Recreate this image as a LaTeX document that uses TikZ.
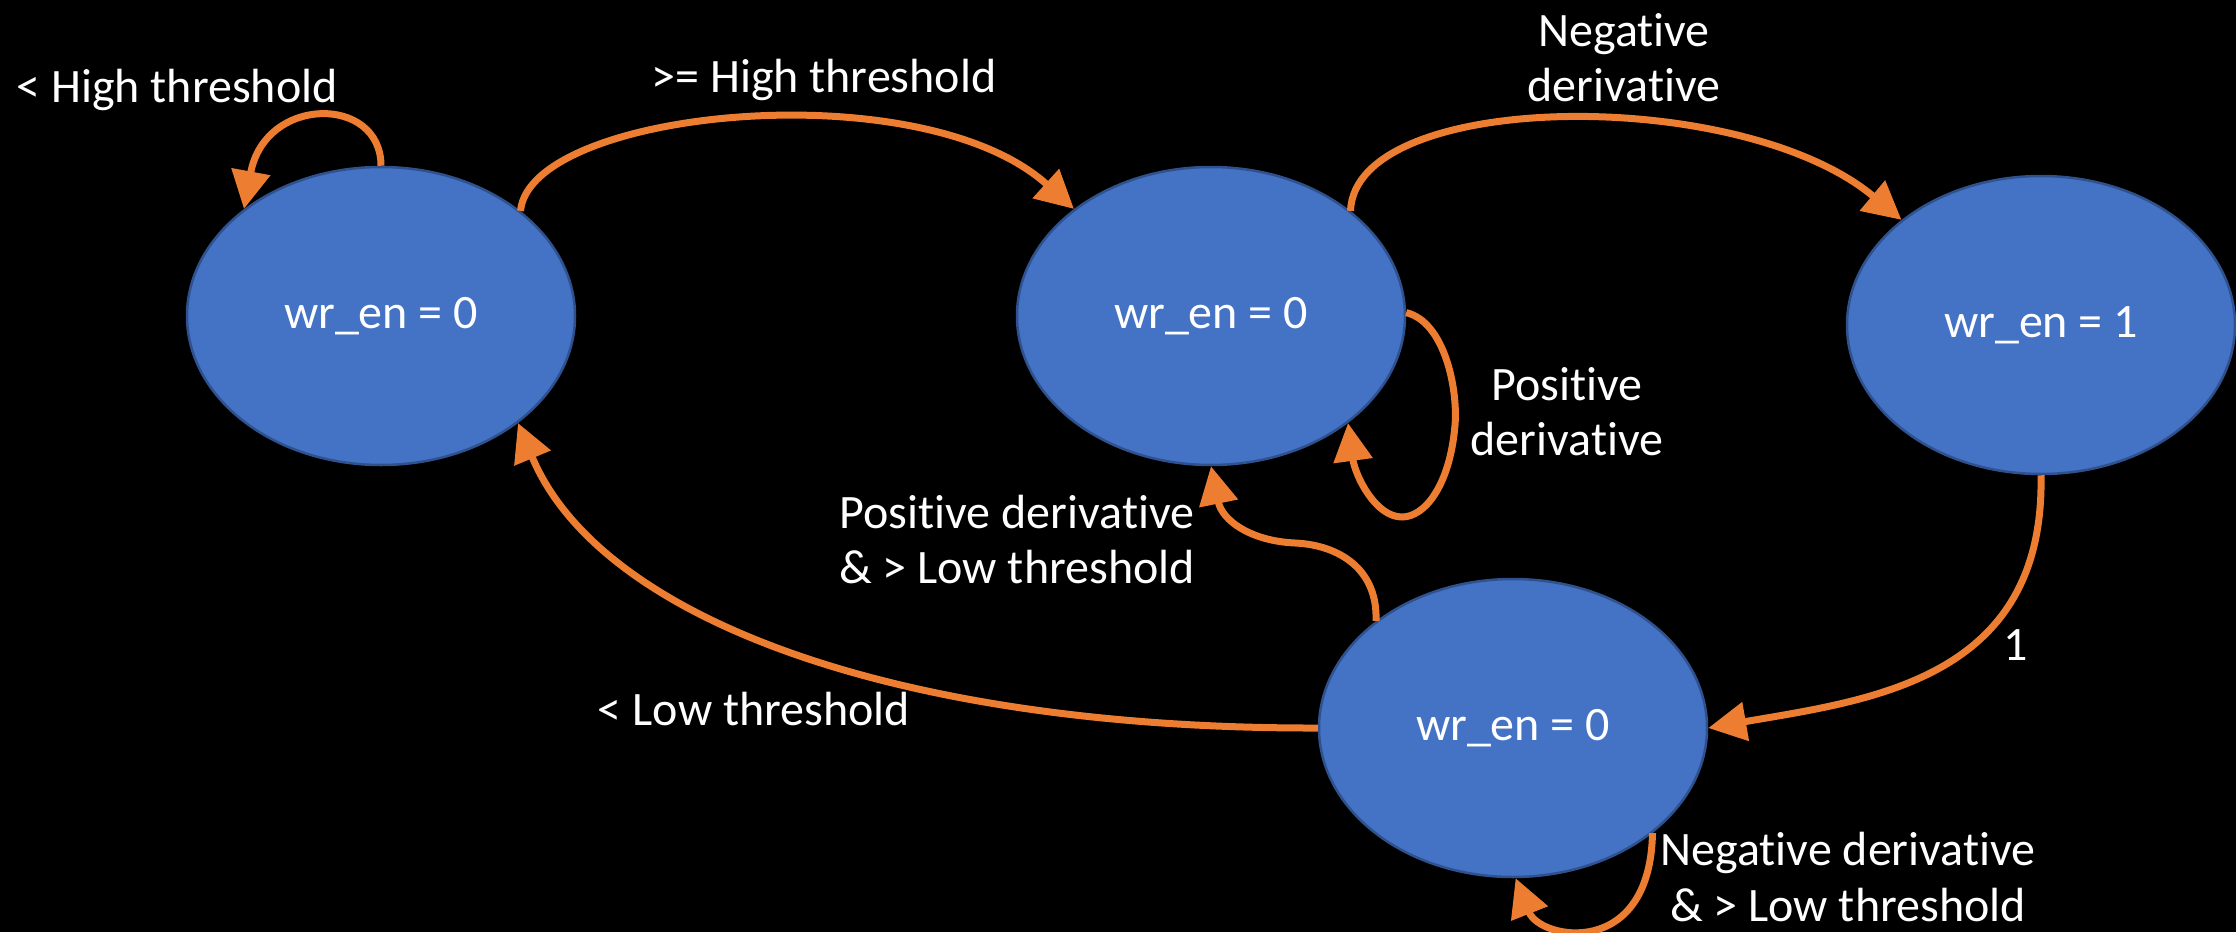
\documentclass[tikz,border=0pt]{standalone}
\usepackage{fontspec}
\setmainfont{Carlito}[Ligatures=NoCommon]
\usetikzlibrary{shapes.geometric,arrows.meta}
\definecolor{stfill}{HTML}{4472C4}
\definecolor{stedge}{HTML}{2F528F}
\definecolor{arr}{HTML}{ED7D31}
\tikzset{
  state/.style={ellipse, fill=stfill, draw=stedge, line width=2.5pt,
    minimum width=388pt, minimum height=298pt, inner sep=0pt,
    text=white, font=\fontsize{48}{55}\selectfont},
  lbl/.style={text=white, font=\fontsize{48}{55}\selectfont, align=center, inner sep=0pt},
  conn/.style={draw=arr, line width=7pt, -{Triangle[width=38pt,length=38pt]}}
}
\begin{document}
\begin{tikzpicture}[x=1pt,y=-1pt]
\fill[black] (0,0) rectangle (2236,932);
\useasboundingbox (0,0) rectangle (2236,932);

\node[state] (A) at (381,316) {wr\_en = 0};
\node[state] (B) at (1211,316) {wr\_en = 0};
\node[state] (D) at (2041,325) {wr\_en = 1};
\node[state] (C) at (1513,728) {wr\_en = 0};

\node[lbl] (l1) at (177,90) {< High threshold};
\node[lbl] (l2) at (824,80) {>= High threshold};
\node[lbl] (l3) at (1624,58) {Negative\\derivative};
\node[lbl] (l4) at (1567,412) {Positive\\derivative};
\node[lbl] (l5) at (1017,540) {Positive derivative\\\& > Low threshold};
\node[lbl] (l6) at (754,709) {< Low threshold};
\node[lbl] (l7) at (2016,645) {1};
\node[lbl] (l8) at (1848,877) {Negative derivative\\\& > Low threshold};

% A self loop
\draw[conn] (A.90) .. controls (381,95) and (265,95) .. (A.142);
% A -> B
\draw[conn] (A.37) .. controls (530,110) and (920,70) .. (B.142);
% B -> D
\draw[conn] (B.37) .. controls (1355,90) and (1740,85) .. (D.143);
% B self loop
\draw[conn] (B.1) .. controls (1445,322) and (1458,390) .. (1455,425)
  .. controls (1450,485) and (1425,517) .. (1402,517)
  .. controls (1375,517) and (1355,475) .. (B.-38);
% D -> C
\draw[conn] (D.-90) .. controls (2045,680) and (1870,700) .. (C.0);
% C -> B
\draw[conn] (C.142) .. controls (1378,570) and (1340,545) .. (1295,543)
  .. controls (1250,541) and (1222,520) .. (B.-90);
% C -> A
\draw[conn] (C.180) .. controls (900,729) and (600,620) .. (A.-38);
% C self loop
\draw[conn] (C.-37) .. controls (1650,960) and (1540,940) .. (C.-89);
\end{tikzpicture}
\end{document}
